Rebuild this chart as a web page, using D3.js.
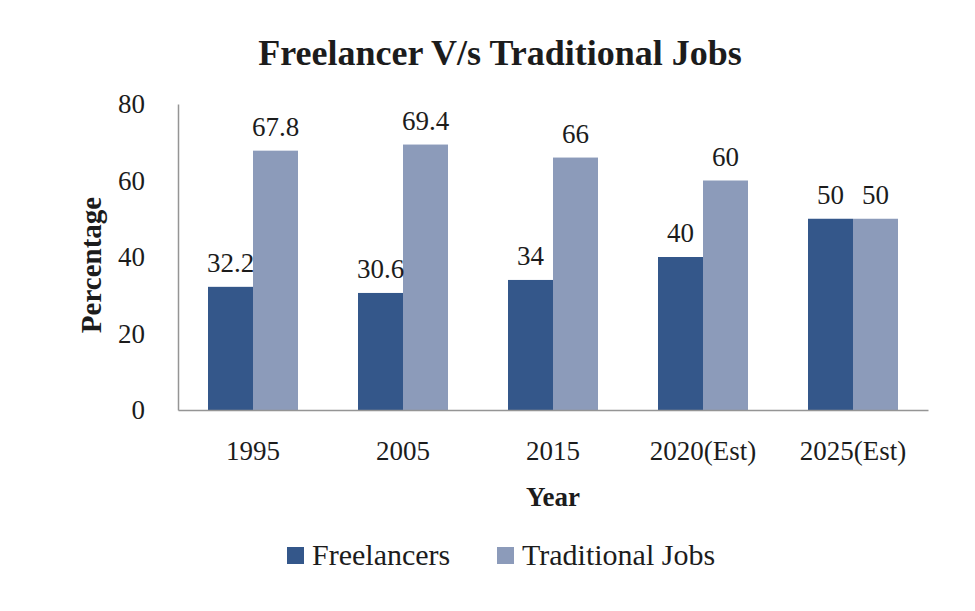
<!DOCTYPE html>
<html>
<head>
<meta charset="utf-8">
<script src="https://cdn.jsdelivr.net/npm/d3@7"></script>
<style>
  html, body { margin: 0; padding: 0; background: #ffffff; }
  svg { display: block; font-family: "Liberation Serif", serif; }
</style>
</head>
<body>
<svg id="chart" width="975" height="611"></svg>
<script>
const categories = ["1995", "2005", "2015", "2020(Est)", "2025(Est)"];
const seriesNames = ["Freelancers", "Traditional Jobs"];
const freelancers = [32.2, 30.6, 34, 40, 50];
const traditional = [67.8, 69.4, 66, 60, 50];
const yTicks = [0, 20, 40, 60, 80];
const colors = ["#34578A", "#8C9BBA"];

(function () {
const svg = d3.select("#chart");
const pLeft = 178, pRight = 928, pTop = 104, pBottom = 410;
const FS = 27;
const FONT = "Liberation Serif";
const TXT = "#1c1c1c";

const x = d3.scaleBand().domain(categories).range([pLeft, pRight]).paddingInner(0.4).paddingOuter(0.2);
const xs = d3.scaleBand().domain(seriesNames).range([0, x.bandwidth()]);
const y = d3.scaleLinear().domain([0, 80]).range([pBottom, pTop]);

const rows = categories.map((c, i) => ({ cat: c, values: [freelancers[i], traditional[i]] }));

// Title
svg.append("text")
  .attr("x", 500).attr("y", 65)
  .attr("text-anchor", "middle")
  .attr("font-size", 36).attr("font-weight", "bold").attr("fill", TXT)
  .text("Freelancer V/s Traditional Jobs");

// Bars
const g = svg.append("g");
const groups = g.selectAll("g.cat").data(rows).join("g")
  .attr("class", "cat")
  .attr("transform", d => `translate(${x(d.cat)},0)`);
groups.selectAll("rect").data(d => d.values.map((v, k) => ({ v, k })))
  .join("rect")
  .attr("x", d => xs(seriesNames[d.k]))
  .attr("width", xs.bandwidth())
  .attr("y", d => y(d.v))
  .attr("height", d => y(0) - y(d.v))
  .attr("fill", d => colors[d.k]);
groups.selectAll("text").data(d => d.values.map((v, k) => ({ v, k })))
  .join("text")
  .attr("x", d => xs(seriesNames[d.k]) + xs.bandwidth() / 2)
  .attr("y", d => y(d.v) - 15)
  .attr("text-anchor", "middle")
  .attr("font-size", FS).attr("fill", TXT)
  .text(d => d.v);

// Axes
const yAxis = svg.append("g").attr("transform", `translate(${pLeft},0)`)
  .call(d3.axisLeft(y).tickValues(yTicks).tickSize(0).tickPadding(33));
yAxis.select(".domain").attr("stroke", "#959595").attr("stroke-width", 1.5);
yAxis.selectAll("text").attr("font-size", FS).attr("font-family", FONT).attr("fill", TXT);

const xAxis = svg.append("g").attr("transform", `translate(0,${pBottom})`)
  .call(d3.axisBottom(x).tickSize(0).tickPadding(31));
xAxis.select(".domain").attr("stroke", "#959595").attr("stroke-width", 1.5);
xAxis.selectAll("text").attr("font-size", FS).attr("font-family", FONT).attr("fill", TXT);

// Axis titles
svg.append("text")
  .attr("transform", "translate(101,265) rotate(-90)")
  .attr("text-anchor", "middle")
  .attr("font-size", 29).attr("font-weight", "bold").attr("fill", TXT)
  .text("Percentage");
svg.append("text")
  .attr("x", (pLeft + pRight) / 2).attr("y", 506)
  .attr("text-anchor", "middle")
  .attr("font-size", FS).attr("font-weight", "bold").attr("fill", TXT)
  .text("Year");

// Legend
const legendX = [287, 497];
const legend = svg.append("g");
seriesNames.forEach((name, i) => {
  legend.append("rect").attr("x", legendX[i]).attr("y", 547).attr("width", 17).attr("height", 17).attr("fill", colors[i]);
  legend.append("text").attr("x", legendX[i] + 25).attr("y", 565)
    .attr("font-size", 30).attr("fill", TXT).text(name);
});
})();
</script>
</body>
</html>
